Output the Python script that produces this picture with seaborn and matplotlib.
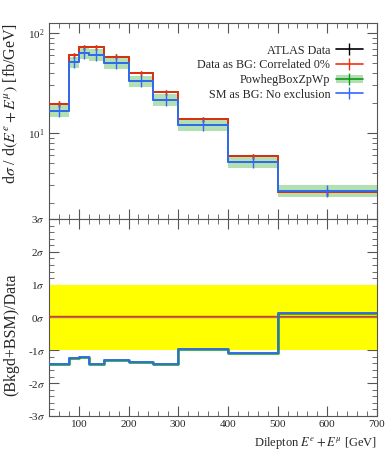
import numpy as np
import pandas as pd
import matplotlib
matplotlib.use("Agg")
import matplotlib.pyplot as plt
import seaborn as sns
from matplotlib.lines import Line2D
from matplotlib.patches import Patch
from matplotlib.legend_handler import HandlerTuple
from matplotlib.ticker import MultipleLocator, FixedLocator, FixedFormatter, LogLocator, NullFormatter

# bin edges [GeV]
edges = [40, 80, 100, 120, 150, 200, 250, 300, 400, 500, 700]

# main panel: d sigma / d(E^e + E^mu) [fb/GeV]
data_vals = [19.6, 60.0, 72.0, 72.0, 58.0, 39.5, 25.7, 13.7, 5.85, 2.57]
data_err = [1.2, 3.5, 4.0, 4.0, 3.5, 2.3, 1.5, 0.8, 0.35, 0.2]
red_vals = [19.6, 60.0, 72.0, 72.0, 58.0, 39.5, 25.7, 13.7, 5.85, 2.57]
mc_vals = [16.6, 51.0, 62.5, 60.5, 50.0, 33.0, 21.4, 12.0, 5.1, 2.62]
mc_lo = [14.5, 44.5, 54.5, 53.0, 43.5, 29.0, 18.7, 10.5, 4.45, 2.28]
mc_hi = [19.0, 58.0, 71.0, 69.0, 57.0, 37.5, 24.3, 13.7, 5.8, 3.0]

# ratio panel: (Bkgd+BSM)/Data in sigma
red_sig = [0.03, 0.03, 0.04, 0.04, 0.04, 0.05, 0.05, 0.05, 0.05, 0.05]
sm_sig = [-1.43, -1.24, -1.21, -1.43, -1.30, -1.36, -1.41, -0.96, -1.07, 0.14]

RED = "#EE3311"
BLUE = "#3366FF"
GREEN = "#109618"
BAND = "#b3e0b3"

sns.set_theme(style="ticks")
plt.rcParams["font.family"] = ["Liberation Serif", "DejaVu Serif"]
plt.rcParams["mathtext.fontset"] = "stix"

centers = [(a + b) / 2 for a, b in zip(edges[:-1], edges[1:])]


def steps(vals):
    return pd.DataFrame({"x": edges, "y": list(vals) + [vals[-1]]})


fig = plt.figure(figsize=(3.89, 4.5), dpi=100)
ax1 = fig.add_axes([0.126, 0.5133, 0.843, 0.4356])
ax2 = fig.add_axes([0.126, 0.0756, 0.843, 0.4378])

# --- main panel
ax1.fill_between(edges, list(mc_lo) + [mc_lo[-1]], list(mc_hi) + [mc_hi[-1]],
                 step="post", color=BAND, lw=0, zorder=1)
sns.lineplot(data=steps(data_vals), x="x", y="y", ax=ax1, color="black", lw=1.3,
             drawstyle="steps-post", estimator=None, sort=False, zorder=3)
sns.lineplot(data=steps(red_vals), x="x", y="y", ax=ax1, color=RED, lw=1.3,
             drawstyle="steps-post", estimator=None, sort=False, zorder=4)
sns.lineplot(data=steps(mc_vals), x="x", y="y", ax=ax1, color=GREEN, lw=1.3,
             drawstyle="steps-post", estimator=None, sort=False, zorder=5)
sns.lineplot(data=steps(mc_vals), x="x", y="y", ax=ax1, color=BLUE, lw=1.3,
             drawstyle="steps-post", estimator=None, sort=False, zorder=6)
ax1.errorbar(centers, data_vals, yerr=data_err, fmt="none", ecolor="black", elinewidth=1, zorder=3)
ax1.errorbar(centers, red_vals, yerr=data_err, fmt="none", ecolor=RED, elinewidth=1, zorder=4)
mc_yerr = [np.subtract(mc_vals, mc_lo), np.subtract(mc_hi, mc_vals)]
ax1.errorbar(centers, mc_vals, yerr=mc_yerr, fmt="none", ecolor=BLUE, elinewidth=1, zorder=6)

ax1.set_yscale("log")
ax1.set_xlim(40, 700)
ax1.set_ylim(1.38, 126)
ax1.set_xlabel("")
ax1.set_ylabel(r"d$\sigma$ / d$(E^e + E^\mu)$ [fb/GeV]", loc="top", fontsize=11.5)
ax1.yaxis.set_label_coords(-0.09, 1.0)
ax1.yaxis.set_major_locator(LogLocator(base=10, numticks=10))
ax1.yaxis.set_minor_locator(LogLocator(base=10, subs=np.arange(2, 10), numticks=10))
ax1.yaxis.set_minor_formatter(NullFormatter())
ax1.tick_params(labelbottom=False)

handles = [
    Line2D([], [], color="black", lw=1.2, marker="|", markersize=9, markeredgewidth=1),
    Line2D([], [], color=RED, lw=1.2, marker="|", markersize=9, markeredgewidth=1),
    (Patch(facecolor=BAND, edgecolor="none"),
     Line2D([], [], color=GREEN, lw=1.2, marker="|", markersize=9, markeredgewidth=1)),
    Line2D([], [], color=BLUE, lw=1.2, marker="|", markersize=9, markeredgewidth=1),
]
labels = ["ATLAS Data", "Data as BG: Correlated 0%", "PowhegBoxZpWp", "SM as BG: No exclusion"]
ax1.legend(handles, labels, loc="upper right", bbox_to_anchor=(0.99, 0.945), markerfirst=False,
           frameon=False, fontsize=8.7, handlelength=2.2, handletextpad=0.5, labelspacing=0.22,
           handler_map={tuple: HandlerTuple(ndivide=1, pad=0)})

# --- ratio panel
ax2.axhspan(-1, 1, color="#FFFF00", lw=0, zorder=1)
ax2.axhline(0, color="#888888", lw=1, zorder=2)
sns.lineplot(data=steps(red_sig), x="x", y="y", ax=ax2, color=RED, lw=1.0,
             drawstyle="steps-post", estimator=None, sort=False, zorder=3)
sns.lineplot(data=steps(sm_sig), x="x", y="y", ax=ax2, color=GREEN, lw=1.8,
             drawstyle="steps-post", estimator=None, sort=False, zorder=4)
sns.lineplot(data=steps(sm_sig), x="x", y="y", ax=ax2, color=BLUE, lw=1.2,
             drawstyle="steps-post", estimator=None, sort=False, zorder=5)
ax2.set_xlim(40, 700)
ax2.set_ylim(-3, 3)
ax2.yaxis.set_major_locator(FixedLocator([-3, -2, -1, 0, 1, 2, 3]))
ax2.yaxis.set_major_formatter(FixedFormatter([f"{i}$\\sigma$" for i in [-3, -2, -1, 0, 1, 2, 3]]))
ax2.yaxis.set_minor_locator(MultipleLocator(0.2))
ax2.set_ylabel("(Bkgd+BSM)/Data", fontsize=11.5)
ax2.yaxis.set_label_coords(-0.09, 0.41)
ax2.set_xlabel(r"Dilepton $E^e + E^\mu$ [GeV]", loc="right", fontsize=9)

for ax in (ax1, ax2):
    ax.xaxis.set_major_locator(MultipleLocator(100))
    ax.xaxis.set_minor_locator(MultipleLocator(20))
    ax.tick_params(which="both", direction="in", top=True, right=True, color="#555555",
                   labelsize=8, pad=3)
    ax.tick_params(which="major", length=7, width=0.8)
    ax.tick_params(which="minor", length=3.5, width=0.6)
    for s in ax.spines.values():
        s.set_color("#555555")
        s.set_linewidth(0.8)

fig.savefig("out.png", dpi=100)
